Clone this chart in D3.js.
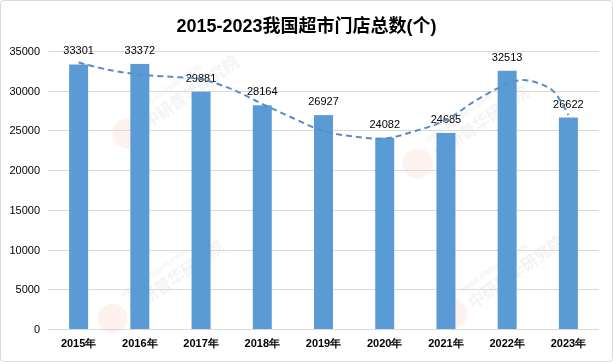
<!DOCTYPE html>
<html>
<head>
<meta charset="utf-8">
<script src="https://cdn.jsdelivr.net/npm/d3@7"></script>
<style>
  body { margin: 0; background: #fff; }
  svg { display: block; font-family: "Liberation Sans", "Noto Sans CJK SC", sans-serif; }
</style>
</head>
<body>
<svg width="613" height="362"></svg>
<script>
// years and store counts
const years = ["2015年", "2016年", "2017年", "2018年", "2019年", "2020年", "2021年", "2022年", "2023年"];
const stores = [33301, 33372, 29881, 28164, 26927, 24082, 24685, 32513, 26622];
// trend line (position in year index, value)
const trendPos = [0, 0.5, 1, 1.5, 2, 2.5, 3, 3.5, 4, 4.5, 5, 5.5, 6, 6.5, 7, 7.25, 7.5, 7.75, 8];
const trendVal = [33550, 32610, 32040, 31750, 31450, 30200, 28330, 26560, 24930, 24240, 23980, 24930, 26310, 28830, 30850, 31350, 30970, 29980, 26940];
const yTicks = [0, 5000, 10000, 15000, 20000, 25000, 30000, 35000];

const W = 613, H = 362;
const margin = { top: 51, right: 14, bottom: 33, left: 48 };

const svg = d3.select("svg");

// outer frame
svg.append("rect")
    .attr("x", 0.5).attr("y", 0.5)
    .attr("width", W - 1).attr("height", H - 1)
    .attr("rx", 3)
    .attr("fill", "#fff")
    .attr("stroke", "#d9d9d9");

const x = d3.scaleBand()
    .domain(years)
    .range([margin.left, W - margin.right])
    .paddingInner(0.69)
    .paddingOuter(0.345);

const y = d3.scaleLinear()
    .domain([0, 35000])
    .range([H - margin.bottom, margin.top]);

// faint watermarks
const marks = [[165, 100], [455, 130], [150, 285], [490, 280]];
const wm = svg.append("g").attr("opacity", 0.08);
marks.forEach(m => {
    const g = wm.append("g").attr("transform", "translate(" + m[0] + "," + m[1] + ") rotate(-35)");
    g.append("circle").attr("cx", -50).attr("cy", 6).attr("r", 15).attr("fill", "#e8603c");
    g.append("text").attr("x", -30).attr("y", -5).attr("font-size", 9).attr("font-weight", "bold")
        .attr("fill", "#666").text("www.chinairn.com");
    g.append("text").attr("x", -30).attr("y", 14).attr("font-size", 16).attr("font-weight", "bold")
        .attr("fill", "#666").text("中研普华研究院");
});

// gridlines
svg.append("g")
    .selectAll("line")
    .data(yTicks)
    .join("line")
    .attr("x1", margin.left)
    .attr("x2", W - margin.right)
    .attr("y1", d => Math.round(y(d)) + 0.5)
    .attr("y2", d => Math.round(y(d)) + 0.5)
    .attr("stroke", "#d9d9d9");

// y axis labels
const yAxis = svg.append("g")
    .attr("transform", "translate(" + (margin.left - 8) + ",0)")
    .call(d3.axisLeft(y).tickValues(yTicks).tickSize(0).tickPadding(0).tickFormat(d3.format("d")));
yAxis.select(".domain").remove();
yAxis.selectAll("text").attr("font-size", 11).attr("fill", "#000").attr("font-family", null);

// x axis labels
const xAxis = svg.append("g")
    .attr("transform", "translate(0," + (H - margin.bottom) + ")")
    .call(d3.axisBottom(x).tickSize(0).tickPadding(10));
xAxis.select(".domain").remove();
xAxis.selectAll("text").attr("font-size", 11).attr("font-weight", "bold").attr("fill", "#000").attr("font-family", null);

// bars
svg.append("g")
    .selectAll("rect")
    .data(stores)
    .join("rect")
    .attr("x", (d, i) => x(years[i]))
    .attr("y", d => y(d))
    .attr("width", x.bandwidth())
    .attr("height", d => y(0) - y(d))
    .attr("fill", "#5b9bd5");

// value labels
svg.append("g")
    .selectAll("text")
    .data(stores)
    .join("text")
    .attr("x", (d, i) => x(years[i]) + x.bandwidth() / 2)
    .attr("y", d => y(d) - 10)
    .attr("text-anchor", "middle")
    .attr("font-size", 11)
    .attr("fill", "#000")
    .text(d => d);

// dashed trend line
const px = p => x(years[0]) + x.bandwidth() / 2 + p * x.step();
const line = d3.line()
    .x(d => px(d[0]))
    .y(d => y(d[1]))
    .curve(d3.curveCatmullRom);
svg.append("path")
    .datum(trendPos.map((p, i) => [p, trendVal[i]]))
    .attr("d", line)
    .attr("fill", "none")
    .attr("stroke", "#5b8dc4")
    .attr("stroke-width", 2)
    .attr("stroke-dasharray", "6,4");

// title
svg.append("text")
    .attr("x", W / 2)
    .attr("y", 32)
    .attr("text-anchor", "middle")
    .attr("font-size", 18)
    .attr("font-weight", "bold")
    .attr("fill", "#000")
    .text("2015-2023我国超市门店总数(个)");
</script>
</body>
</html>
